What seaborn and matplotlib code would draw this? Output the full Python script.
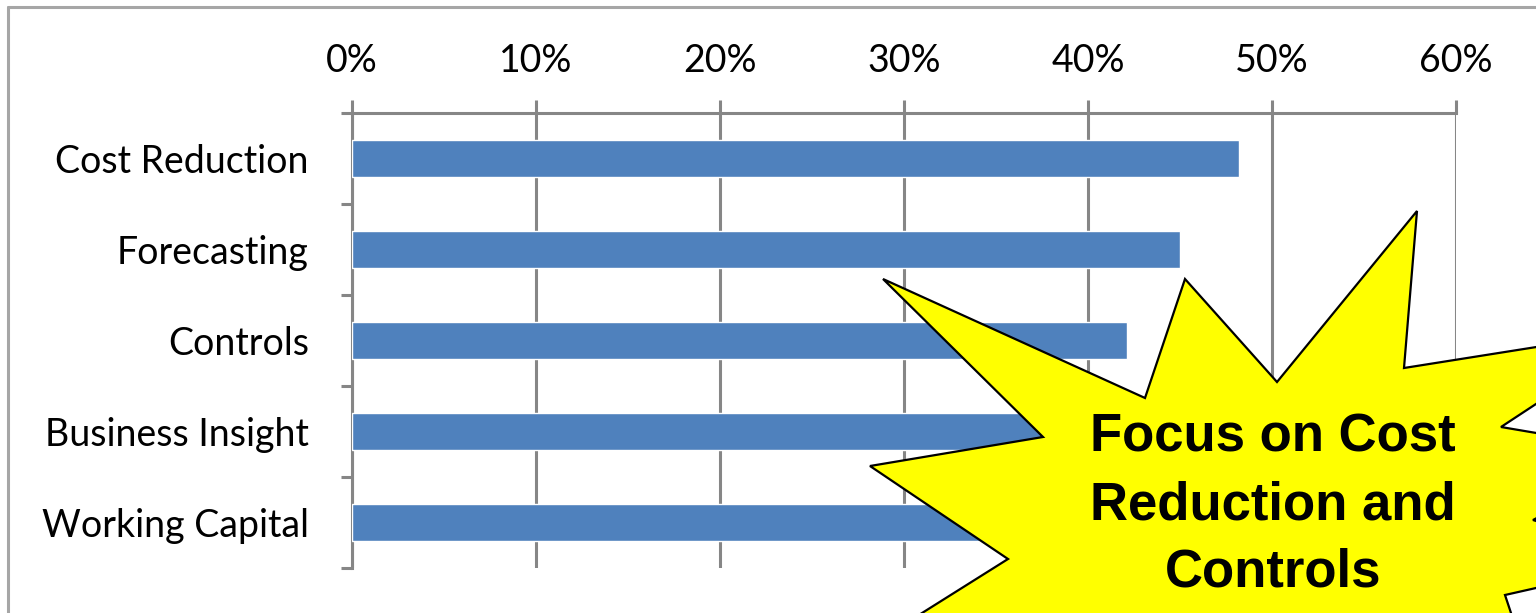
import numpy as np
import pandas as pd
import matplotlib
matplotlib.use("Agg")
import matplotlib.pyplot as plt
import seaborn as sns
from matplotlib.patches import Polygon
from matplotlib.lines import Line2D
from matplotlib.ticker import FixedLocator, PercentFormatter

categories = ["Cost Reduction", "Forecasting", "Controls", "Business Insight", "Working Capital"]
values = [0.482, 0.450, 0.421, 0.400, 0.380]
x_ticks = [0.0, 0.1, 0.2, 0.3, 0.4, 0.5, 0.6]
callout_text = "Focus on Cost\nReduction and\nControls"

sns.set_theme(style="white")
plt.rcParams["font.family"] = ["Lato", "DejaVu Sans"]

W, H = 1536, 613
fig = plt.figure(figsize=(W / 100, H / 100), dpi=100)
fig.patch.set_facecolor("white")
ax = fig.add_axes([352 / W, 1 - 568 / H, 1104 / W, 455 / H])

df = pd.DataFrame({"category": categories, "value": values})
sns.barplot(data=df, x="value", y="category", orient="h", color="#4F81BD",
            width=0.4, saturation=1, ax=ax, zorder=3)

grid_c = "#868686"
ax.set_xlim(0, 0.6)
ax.set_ylim(len(categories) - 0.5, -0.5)
ax.xaxis.set_major_locator(FixedLocator(x_ticks))
ax.xaxis.set_major_formatter(PercentFormatter(1.0, decimals=0))
ax.xaxis.tick_top()
ax.xaxis.set_label_position("top")
ax.set_xlabel("")
ax.set_ylabel("")
ax.grid(axis="x", color=grid_c, linewidth=2.2, zorder=0)
ax.set_axisbelow(True)

for s in ["right", "bottom"]:
    ax.spines[s].set_visible(False)
for s in ["top", "left"]:
    ax.spines[s].set_visible(True)
    ax.spines[s].set_color(grid_c)
    ax.spines[s].set_linewidth(2.2)

ax.tick_params(axis="x", which="major", top=True, bottom=False, direction="out",
               length=9.5, width=2.2, color=grid_c, labelsize=27, pad=15,
               labelcolor="black")
ax.yaxis.set_minor_locator(FixedLocator(np.arange(-0.5, len(categories), 1.0)))
ax.tick_params(axis="y", which="major", left=False, length=0, pad=31,
               labelsize=27, labelcolor="black")
ax.tick_params(axis="y", which="minor", left=True, direction="out", length=8,
               width=2.2, color=grid_c)

# outer chart frame
fig.add_artist(Line2D([8 / W, 1.0], [1 - 7 / H, 1 - 7 / H], transform=fig.transFigure,
                      color="#A6A6A6", linewidth=2.2))
fig.add_artist(Line2D([8 / W, 8 / W], [1 - 7 / H, 0.0], transform=fig.transFigure,
                      color="#A6A6A6", linewidth=2.2))

# starburst callout (pixel coordinates, y down)
star_px = [(883, 279), (1145, 398), (1185, 279), (1277, 382), (1417, 211),
           (1404, 368), (1650, 329), (1501, 427), (1660, 454), (1533, 520),
           (1660, 560), (1505, 595), (1530, 670), (1200, 720), (860, 652),
           (1008, 559), (870, 466), (1043, 437)]
star = [(x / W, 1 - y / H) for x, y in star_px]
fig.add_artist(Polygon(star, closed=True, transform=fig.transFigure,
                       facecolor="#FFFF00", edgecolor="black", linewidth=1.6,
                       zorder=10, clip_on=False))
fig.text(1273 / W, 1 - 505 / H, callout_text, ha="center", va="center",
         multialignment="center", fontsize=38, fontweight="bold",
         family=["Liberation Sans", "DejaVu Sans"], linespacing=1.45,
         color="black", zorder=11)

fig.savefig("out.png", dpi=100, facecolor="white")
